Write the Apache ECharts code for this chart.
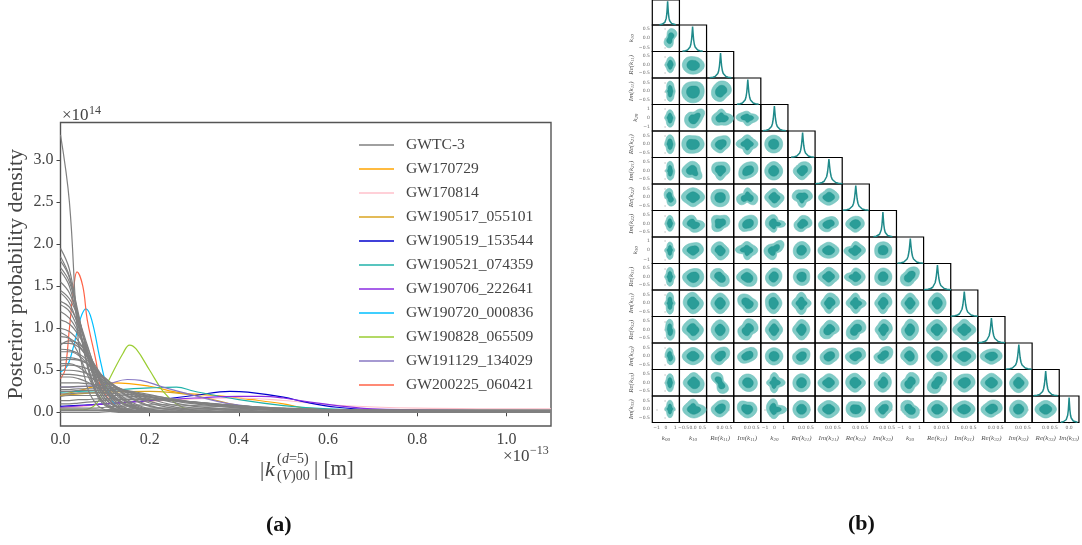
<!DOCTYPE html>
<html><head><meta charset="utf-8">
<style>html,body{margin:0;padding:0;background:#fff}#c{width:1082px;height:545px}</style>
<script src="https://cdn.jsdelivr.net/npm/echarts@6/dist/echarts.min.js"></script>
</head><body><div id="c"></div>
<script>
// ---------- panel (a): posterior curves ----------
const greyX = [0,.02,.04,.06,.08,.1,.13,.16,.2,.25,.3,.4,.5,.7,1.1];
const greyCurves = [
[3.30,2.50,.85,.30,.10,.03,0,0,0,0,0,0,0,0,0],
[1.95,1.70,1.10,.55,.22,.08,.02,0,0,0,0,0,0,0,0],
[1.85,1.62,1.18,.68,.32,.13,.03,.01,0,0,0,0,0,0,0],
[1.80,1.60,1.10,.58,.25,.10,.02,0,0,0,0,0,0,0,0],
[1.72,1.55,1.15,.72,.38,.17,.05,.01,0,0,0,0,0,0,0],
[1.68,1.50,1.05,.58,.26,.10,.02,0,0,0,0,0,0,0,0],
[1.55,1.42,1.12,.75,.42,.20,.06,.02,0,0,0,0,0,0,0],
[1.45,1.35,1.12,.80,.48,.25,.08,.02,0,0,0,0,0,0,0],
[1.42,1.30,1.02,.66,.36,.16,.05,.01,0,0,0,0,0,0,0],
[1.32,1.25,1.05,.78,.50,.28,.10,.03,.01,0,0,0,0,0,0],
[1.28,1.20,.98,.68,.40,.20,.06,.02,0,0,0,0,0,0,0],
[1.20,1.12,.95,.72,.46,.27,.10,.03,.01,0,0,0,0,0,0],
[1.10,1.05,.92,.72,.50,.32,.13,.05,.01,0,0,0,0,0,0],
[1.00,.96,.85,.68,.48,.32,.15,.07,.02,.01,0,0,0,0,0],
[.95,.88,.70,.45,.24,.10,.03,.01,0,0,0,0,0,0,0],
[.90,.88,.80,.66,.50,.35,.18,.08,.02,.01,0,0,0,0,0],
[.82,.82,.78,.66,.52,.38,.20,.10,.03,.01,0,0,0,0,0],
[.80,.85,.82,.70,.54,.38,.20,.09,.02,.01,0,0,0,0,0],
[.75,.74,.70,.62,.50,.38,.22,.12,.04,.01,0,0,0,0,0],
[.72,.72,.68,.58,.44,.30,.15,.06,.02,0,0,0,0,0,0],
[.65,.65,.63,.58,.50,.41,.27,.17,.08,.03,.01,0,0,0,0],
[.62,.63,.62,.58,.50,.40,.26,.16,.07,.03,.01,0,0,0,0],
[.58,.58,.54,.46,.36,.26,.14,.07,.02,0,0,0,0,0,0],
[.55,.56,.55,.52,.47,.40,.29,.20,.11,.05,.02,.005,0,0,0],
[.50,.50,.49,.46,.42,.37,.29,.22,.13,.07,.03,.01,0,0,0],
[.45,.45,.44,.42,.39,.35,.29,.23,.16,.09,.05,.02,.01,0,0],
[.42,.42,.40,.36,.30,.23,.13,.06,.02,0,0,0,0,0,0],
[.35,.35,.35,.34,.33,.31,.28,.24,.18,.12,.07,.03,.01,.005,0],
[.30,.30,.31,.31,.30,.29,.27,.24,.19,.14,.10,.05,.02,.01,.005],
[.27,.27,.28,.28,.28,.28,.27,.25,.21,.16,.12,.06,.03,.01,.005],
[.25,.25,.26,.26,.26,.26,.25,.23,.20,.16,.12,.07,.03,.01,.01],
[.22,.22,.23,.23,.23,.23,.22,.21,.18,.15,.11,.06,.03,.01,.01],
[.19,.20,.20,.20,.20,.20,.20,.19,.18,.15,.12,.08,.04,.02,.01],
[.14,.14,.15,.15,.16,.16,.17,.17,.16,.14,.12,.08,.05,.02,.01],
[.10,.10,.11,.12,.13,.14,.15,.15,.15,.14,.12,.08,.05,.02,.015],
[.05,.05,.05,.05,.05,.06,.07,.08,.09,.09,.08,.06,.04,.025,.02],
[.03,.03,.03,.03,.03,.03,.04,.04,.05,.05,.05,.04,.03,.025,.02],
[.02,.02,.02,.02,.02,.02,.02,.02,.025,.03,.03,.03,.03,.03,.03],
[0,0,0,0,0,.005,.01,.01,.01,.01,.01,.01,.01,.01,.01]
];
const eventNames = ['GW170729','GW170814','GW190517_055101','GW190519_153544','GW190521_074359','GW190706_222641','GW190720_000836','GW190828_065509','GW191129_134029','GW200225_060421'];
const eventColors = ['#ffa500','#ffc0cb','#daa520','#0000cd','#20b2aa','#8a2be2','#00bfff','#9acd32','#8878c3','#ff6347'];
const x170729 = [0,.05,.12,.2,.27,.35,.43,.5,.55,.7,1.1];
const y170729 = [.2,.27,.35,.31,.23,.2,.15,.1,.05,.02,.005];
const x170814 = [0,.05,.1,.2,.3,.4,.5,.6,.8,1.1];
const y170814 = [.05,.07,.1,.13,.16,.17,.14,.09,.05,.04];
const x190517 = [0,.1,.2,.3,.4,.5,.7,1.1];
const y190517 = [.2,.24,.25,.2,.08,.02,.005,0];
const x190519 = [0,.1,.2,.3,.38,.42,.5,.55,.62,.7,.85,1.1];
const y190519 = [.07,.1,.14,.2,.25,.24,.18,.12,.06,.03,.015,.005];
const x190521 = [0,.1,.2,.26,.3,.4,.5,.6,.8,1.1];
const y190521 = [.24,.26,.29,.3,.25,.15,.08,.04,.01,0];
const x190706 = [0,.1,.2,.3,.4,.45,.5,.56,.62,.7,.8,1,1.1];
const y190706 = [.06,.1,.14,.17,.19,.19,.17,.12,.08,.04,.03,.015,.01];
const x190720 = [0,.015,.03,.045,.057,.07,.09,.11,.13,.16,.2,1.1];
const y190720 = [.48,.55,.8,1.12,1.23,1.1,.6,.2,.05,.01,0,0];
const x190828 = [0,.05,.08,.11,.14,.155,.17,.2,.23,.26,.29,.35,1.1];
const y190828 = [.03,.03,.1,.4,.7,.8,.75,.5,.25,.1,.03,0,0];
const x191129 = [0,.1,.15,.18,.23,.3,.38,.5,.7,1.1];
const y191129 = [.3,.33,.39,.38,.3,.2,.1,.03,0,0];
const x200225 = [0,.01,.02,.03,.037,.05,.06,.08,.09,.11,.13,.16,.2,1.1];
const y200225 = [.4,.5,1.0,1.5,1.67,1.5,1.1,.6,.3,.15,.05,.01,0,0];
const eventX = [x170729,x170814,x190517,x190519,x190521,x190706,x190720,x190828,x191129,x200225];
const eventY = [y170729,y170814,y190517,y190519,y190521,y190706,y190720,y190828,y191129,y200225];
const yTickValues = [0,.5,1,1.5,2,2.5,3];
const xTickValues = [0,.2,.4,.6,.8,1];

// ---------- panel (b): corner plot ----------
const paramNames = ['k|00','k|10','Re|11','Im|11','k|20','Re|21','Im|21','Re|22','Im|22','k|30','Re|31','Im|31','Re|32','Im|32','Re|33','Im|33'];
// contour outline per cell: centre x, centre y, then reach towards E,NE,N,NW,W,SW,S,SE (percent of half an axis)
const blobRow1 = [[32,0,30,60,65,30,30,55,65,30]];
const blobRow2 = [[32,0,35,40,55,35,35,35,55,35],[1,5,75,65,60,70,72,65,60,65]];
const blobRow3 = [[30,0,35,40,70,30,30,30,70,40],[0,5,75,80,70,75,75,75,75,75],[5,0,70,75,70,60,62,70,70,55]];
const blobRow4 = [[30,0,35,35,55,35,35,35,65,40],[10,5,55,85,45,55,65,70,65,50],[10,0,80,45,60,50,65,65,50,65],[0,0,75,40,45,50,75,40,55,50]];
const blobRow5 = [[30,0,35,40,65,40,35,35,65,40],[0,2,75,70,60,75,75,70,60,65],[5,5,60,75,60,60,65,55,55,45],[0,0,72,55,65,55,75,45,70,50],[-5,0,60,62,62,62,60,60,60,60]];
const blobRow6 = [[30,0,32,35,65,30,30,30,65,40],[-5,0,55,60,65,60,70,60,45,80],[0,0,65,70,60,65,55,45,65,50],[5,2,65,75,60,55,60,70,50,50],[-5,2,60,60,65,60,60,60,62,60],[5,0,62,70,60,50,60,55,62,50]];
const blobRow7 = [[30,0,30,30,60,50,35,30,60,55],[0,0,78,65,65,65,78,60,65,60],[0,0,62,62,55,60,62,65,65,65],[0,0,70,50,65,40,70,70,35,70],[0,0,65,45,60,55,65,55,70,60],[3,0,70,65,50,62,65,45,70,45],[0,0,70,60,60,50,68,55,55,55]];
const blobRow8 = [[30,-3,33,32,55,35,33,35,55,35],[0,3,78,40,60,65,68,45,55,65],[0,0,62,72,55,70,55,65,50,40],[3,5,65,75,60,55,60,60,45,50],[0,4,75,40,65,65,60,50,55,30],[5,4,65,65,60,45,55,55,50,40],[0,4,65,65,50,50,68,60,50,40],[-3,4,60,60,55,55,65,50,55,50]];
const blobRow9 = [[30,-2,32,30,55,30,35,35,65,32],[0,0,70,65,50,55,70,55,60,55],[0,2,60,50,60,60,60,50,65,60],[-5,0,75,55,60,50,75,35,65,55],[-5,-2,55,85,45,50,65,65,65,30],[0,0,58,58,60,55,55,60,60,55],[0,0,70,55,55,55,72,60,55,60],[-5,0,70,55,60,40,75,60,65,55],[0,0,60,60,58,58,55,60,55,60]];
const blobRow10 = [[30,0,35,35,65,35,35,35,65,35],[0,0,72,68,55,55,70,65,70,70],[0,0,55,40,55,65,65,50,65,75],[0,5,65,55,60,60,72,55,60,70],[-5,0,55,60,60,50,55,60,65,55],[0,0,55,60,55,55,55,55,60,60],[0,0,70,60,65,55,72,55,65,55],[-5,0,68,58,60,42,72,50,60,60],[0,0,60,60,60,55,55,60,60,60],[-3,0,58,80,62,45,60,70,62,45]];
const blobRow11 = [[30,0,35,35,75,35,35,35,75,35],[0,0,70,60,75,70,65,60,72,65],[0,0,62,60,70,60,62,60,72,60],[0,0,70,50,60,75,60,45,65,70],[-5,0,55,55,70,65,55,60,72,55],[0,0,65,50,75,55,65,55,78,50],[3,0,70,70,70,50,55,50,70,50],[0,0,70,45,70,55,65,50,70,50],[0,0,60,65,70,50,55,50,72,50],[0,0,60,55,70,55,60,55,72,55],[0,0,60,62,72,60,60,55,72,60]];
const blobRow12 = [[30,0,32,30,72,40,32,35,72,45],[0,0,70,60,75,70,72,55,72,65],[0,0,60,58,68,60,60,60,72,62],[3,0,68,75,75,50,65,70,70,45],[-3,0,58,55,72,55,58,55,72,55],[0,0,55,60,70,55,60,55,70,55],[3,0,68,65,65,50,60,70,60,45],[0,0,65,75,65,50,60,75,65,40],[3,0,60,65,70,50,55,50,72,50],[-3,0,60,65,72,50,55,60,72,60],[0,0,65,60,70,65,72,60,72,55],[0,0,78,60,72,60,78,60,72,60]];
const blobRow13 = [[30,0,30,30,58,40,32,30,58,45],[0,0,72,60,60,60,72,60,58,60],[0,0,60,75,58,50,60,60,58,45],[0,0,65,75,55,50,65,60,45,45],[-3,0,60,58,58,58,58,58,60,58],[0,2,55,65,55,50,60,60,55,50],[3,2,65,70,55,50,60,60,55,50],[0,0,65,70,55,50,70,60,55,45],[0,0,60,80,60,40,60,55,50,40],[-3,0,55,55,65,60,60,50,60,60],[0,0,68,60,65,60,70,60,65,60],[0,0,78,62,60,60,78,62,65,62],[0,0,72,62,50,55,75,55,55,55]];
const blobRow14 = [[30,0,32,35,62,35,32,35,62,35],[5,0,70,60,70,60,70,60,70,75],[0,0,35,30,65,80,35,30,70,75],[3,0,65,60,60,60,60,55,60,65],[-3,0,75,50,70,40,50,40,70,45],[0,0,58,60,62,58,58,60,62,58],[0,0,68,60,62,55,72,58,62,58],[-3,0,68,55,65,65,65,60,65,55],[2,0,55,60,70,45,60,60,65,55],[0,0,60,70,70,45,60,70,70,45],[0,0,55,80,70,45,60,80,70,40],[0,0,72,70,60,60,72,60,65,60],[0,0,72,60,65,60,72,60,65,62],[0,0,65,55,65,55,60,60,68,60]];
const blobRow15 = [[30,-2,35,32,60,32,35,32,60,32],[3,0,85,50,70,60,72,60,60,65],[0,-2,60,72,58,50,60,55,55,50],[0,0,65,60,50,72,65,55,60,60],[-3,0,85,40,72,60,50,50,65,50],[0,0,58,58,60,58,58,58,60,58],[0,0,72,60,60,60,72,60,60,60],[0,0,65,60,52,65,65,60,55,60],[2,0,58,70,55,45,55,55,60,45],[0,0,60,40,58,70,60,50,60,70],[0,0,70,60,60,60,65,60,60,60],[0,0,72,60,58,60,78,62,58,60],[0,0,72,72,62,55,70,58,55,50],[0,0,62,60,62,60,60,60,60,58],[0,0,72,60,60,60,72,60,60,60]];
const blobRows = [[],blobRow1,blobRow2,blobRow3,blobRow4,blobRow5,blobRow6,blobRow7,blobRow8,blobRow9,blobRow10,blobRow11,blobRow12,blobRow13,blobRow14,blobRow15];
// marginal density shape shared by the diagonal panels
const diagX = [-1,-.7,-.5,-.35,-.25,-.17,-.1,-.05,0,.05,.1,.17,.25,.35,.5,.7,1];
const diagY = [.01,.03,.06,.11,.18,.29,.48,.72,1,.72,.48,.29,.18,.11,.06,.03,.01];
const diagWidth = [.6,.75,.8,.8,.85,.85,1,.95,.7,.95,1,1,1,.95,.9,.85];
const diagShift = [.13,-.03,.03,.04,0,.08,.02,0,0,.02,.02,0,0,.02,0,0];
const wideTicks = [-1,0,1];
const narrowTicks = [-.5,0,.5];

const SERIF = '"Liberation Serif","DejaVu Serif",serif';
const CORNER = {left:652.3, stepX:27.13, bottom0:25, stepY:26.5};
const rangeOf = i => paramNames[i].startsWith('k') && i !== 1 ? 1.45 : (i === 1 ? .72 : .78);
const ticksOf = i => paramNames[i].startsWith('k') && i !== 1 ? wideTicks : narrowTicks;
const fmtOf = i => v => {
  const s = (ticksOf(i) === wideTicks) ? String(Math.round(v)) : v.toFixed(1);
  return s.replace('-', '\u2212');
};
const richName = i => {
  const [a, b] = paramNames[i].split('|');
  return a === 'k' ? '{n|k}{s|' + b + '}' : '{n|' + a + '(k}{s|' + b + '}{n|)}';
};
const nameRich = {n:{fontFamily:SERIF,fontStyle:'italic',fontSize:7,color:'#555'},
                  s:{fontFamily:SERIF,fontStyle:'italic',fontSize:5,color:'#555',verticalAlign:'bottom',padding:[3,0,0,0]}};

const grids = [{left:60.5, top:122.5, width:490.5, height:303.5, show:true, borderColor:'#555', borderWidth:1.4, backgroundColor:'transparent', z:1}];
const xAxes = [{gridIndex:0,type:'value',min:0,max:1.1,
  axisLine:{show:false},splitLine:{show:false},
  axisTick:{show:true,customValues:xTickValues,length:4,lineStyle:{color:'#444',width:1}},
  axisLabel:{customValues:xTickValues,margin:6,fontFamily:SERIF,fontSize:16,color:'#444',formatter:v=>v.toFixed(1)}}];
const yAxes = [{gridIndex:0,type:'value',min:-.163,max:3.447,
  name:'Posterior probability density',nameLocation:'middle',nameRotate:90,nameGap:33,
  nameTextStyle:{fontFamily:SERIF,fontSize:22,color:'#444'},
  axisLine:{show:false},splitLine:{show:false},
  axisTick:{show:true,customValues:yTickValues,length:4,lineStyle:{color:'#444',width:1}},
  axisLabel:{customValues:yTickValues,margin:7,fontFamily:SERIF,fontSize:16,color:'#444',formatter:v=>v.toFixed(1)}}];
const series = [];

eventNames.forEach((n,i)=>series.push({type:'line',name:n,xAxisIndex:0,yAxisIndex:0,z:2,
  smooth:.4,symbol:'none',silent:true,animation:false,
  lineStyle:{color:eventColors[i],width:1.2},itemStyle:{color:eventColors[i]},
  data:eventX[i].map((x,k)=>[x,eventY[i][k]])}));
greyCurves.forEach(c=>series.push({type:'line',name:'GWTC-3',xAxisIndex:0,yAxisIndex:0,z:3,
  smooth:.4,symbol:'none',silent:true,animation:false,
  lineStyle:{color:'#808080',width:1.2},itemStyle:{color:'#808080'},
  data:greyX.map((x,k)=>[x,c[k]])}));

function blobItem(params, api){
  const b = [0,1,2,3,4,5,6,7,8,9].map(k=>api.value(k));
  const hx = api.value(10), hy = api.value(11);
  const reach = t => {
    const i = Math.floor(t), u = t-i;
    const p = j => b[2+((i+j)%8+8)%8];
    return .5*((2*p(0))+(p(1)-p(-1))*u+(2*p(-1)-5*p(0)+4*p(1)-p(2))*u*u+(3*p(0)-p(-1)-3*p(1)+p(2))*u*u*u);
  };
  const outline = f => {
    const pts = [];
    for(let k=0;k<48;k++){
      const t = k/6, a = t*Math.PI/4, r = reach(t)/100*f;
      pts.push(api.coord([(b[0]/100 + r*Math.cos(a))*hx, (b[1]/-100 + r*Math.sin(a))*hy]));
    }
    return pts;
  };
  return {type:'group',children:[
    {type:'polygon',shape:{points:outline(1.1)},style:{fill:'#80cbc6',stroke:'#6dbfba',lineWidth:.6}},
    {type:'polygon',shape:{points:outline(.64)},style:{fill:'#2a9d98',stroke:'#23908c',lineWidth:.4}}
  ]};
}

for(let r=0;r<16;r++){
  for(let c=0;c<=r;c++){
    const idx = grids.length;
    const rx = rangeOf(c), ry = r===c ? 1.06 : rangeOf(r);
    const bottomRow = r===15, firstCol = c===0 && r>0;
    grids.push({left:CORNER.left+c*CORNER.stepX, top:CORNER.bottom0+(r-1)*CORNER.stepY, width:CORNER.stepX, height:CORNER.stepY,
      show:true,borderColor:'#000',borderWidth:1.2,backgroundColor:'transparent',z:4});
    xAxes.push({gridIndex:idx,type:'value',min:-rx,max:rx,show:bottomRow,
      name:bottomRow?richName(c):'',nameLocation:'middle',nameGap:12,nameTextStyle:{rich:nameRich},
      axisLine:{show:false},splitLine:{show:false},
      axisTick:{show:bottomRow,customValues:ticksOf(c),length:1.5,lineStyle:{color:'#555',width:.4}},
      axisLabel:{show:bottomRow,customValues:ticksOf(c),margin:2.5,fontSize:4.5,fontFamily:'"DejaVu Sans",sans-serif',color:'#666',formatter:fmtOf(c),hideOverlap:false}});
    yAxes.push({gridIndex:idx,type:'value',min:r===c?0:-ry,max:ry,show:firstCol,
      name:firstCol?richName(r):'',nameLocation:'middle',nameRotate:90,nameGap:13,nameTextStyle:{rich:nameRich},
      axisLine:{show:false},splitLine:{show:false},
      axisTick:{show:firstCol,customValues:r>0?ticksOf(r):[],length:1.5,lineStyle:{color:'#555',width:.4}},
      axisLabel:{show:firstCol,customValues:r>0?ticksOf(r):[],margin:2.5,fontSize:4.5,fontFamily:'"DejaVu Sans",sans-serif',color:'#666',formatter:fmtOf(r),hideOverlap:false}});
    if(r===c){
      series.push({type:'line',xAxisIndex:idx,yAxisIndex:idx,symbol:'none',silent:true,animation:false,z:5,
        lineStyle:{color:'#1f8a8a',width:1.5},
        data:diagX.map((x,k)=>[(x*diagWidth[c]+diagShift[c])*rx,diagY[k]])});
    } else {
      series.push({type:'custom',xAxisIndex:idx,yAxisIndex:idx,silent:true,animation:false,z:5,
        renderItem:blobItem,data:[blobRows[r][c].concat([rx,ry])]});
    }
  }
}

const txt = (x,y,text,size,extra) => ({type:'text',x,y,silent:true,z:10,style:Object.assign({text,fontFamily:SERIF,fontSize:size,fill:'#444',verticalAlign:'middle'},extra||{})});
const graphic = [
  txt(62,116,'\u00d710',17),
  txt(89,111,'14',12),
  txt(503,457,'\u00d710',17),
  txt(530,451,'\u221213',12),
  txt(260,470,'|',21),
  txt(265,470,'k',22,{fontStyle:'italic'}),
  txt(277,459,'(',14),
  txt(282,459,'d',14,{fontStyle:'italic'}),
  txt(289,459,'=5)',14),
  txt(277,476,'(',14),
  txt(282,476,'V',14,{fontStyle:'italic'}),
  txt(291,476,')00',14),
  txt(314,469,'| [m]',21),
  txt(266,525,'(a)',22,{fontWeight:'bold',fill:'#111'}),
  txt(848,524,'(b)',22,{fontWeight:'bold',fill:'#111'})
];

const chart = echarts.init(document.getElementById('c'),null,{renderer:'canvas'});
chart.setOption({
  animation:false,backgroundColor:'#fff',
  grid:grids,xAxis:xAxes,yAxis:yAxes,series,graphic,
  legend:{show:true,left:354,top:132,orient:'vertical',icon:'rect',itemWidth:35,itemHeight:1.4,itemGap:8,
    data:['GWTC-3'].concat(eventNames),selectedMode:false,
    textStyle:{fontFamily:SERIF,fontSize:15.6,lineHeight:16,color:'#444',padding:[0,0,0,7]}}
});
</script></body></html>
